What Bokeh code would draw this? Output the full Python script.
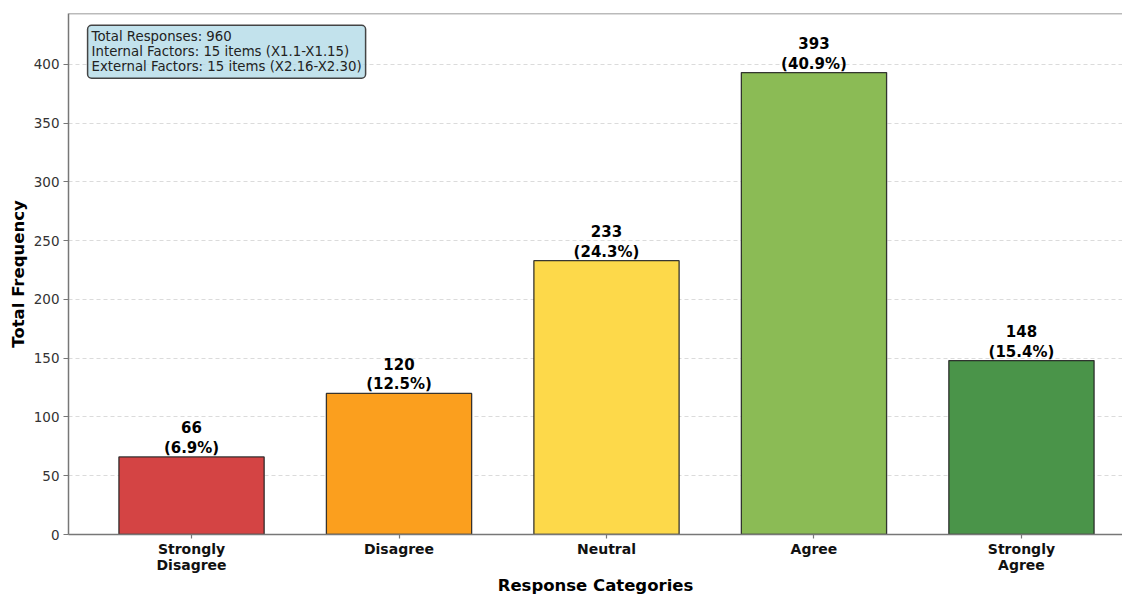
from bokeh.plotting import figure
from bokeh.models import ColumnDataSource, FixedTicker, Range1d, Span, Label
from bokeh.core.properties import value
from bokeh.embed import file_html
from bokeh.resources import INLINE

categories = ["Strongly\nDisagree", "Disagree", "Neutral", "Agree", "Strongly\nAgree"]
frequencies = [66, 120, 233, 393, 148]
bar_colors = ["#d44444", "#fb9f1e", "#fdd94a", "#8bbb55", "#4a9449"]
y_ticks = [0, 50, 100, 150, 200, 250, 300, 350, 400]
info_lines = ["Total Responses: 960",
              "Internal Factors: 15 items (X1.1-X1.15)",
              "External Factors: 15 items (X2.16-X2.30)"]

total = sum(frequencies)
positions = list(range(len(categories)))
labels = [f"{v}\n({v / total * 100:.1f}%)" for v in frequencies]

FONT = "DejaVu Sans"

src = ColumnDataSource(dict(x=positions, top=frequencies, color=bar_colors, label=labels))

y_max = max(frequencies) * 1.128
p = figure(width=1122, height=597, output_backend="svg", toolbar_location=None,
           x_range=Range1d(-0.593, 4.487), y_range=Range1d(0, y_max),
           min_border_left=68, min_border_right=0, min_border_top=13, min_border_bottom=50)

p.outline_line_color = None
p.background_fill_color = "white"
p.border_fill_color = "white"

p.vbar(x="x", top="top", width=0.7, bottom=0, source=src, fill_color="color",
       line_color="#222222", line_width=1.3, line_alpha=0.9)

p.text(x="x", y="top", text="label", source=src, text_align="center",
       text_baseline="bottom", text_font=value(FONT), text_font_style="bold",
       text_font_size="15px", text_color="black", text_line_height=1.1)

# top spine
p.add_layout(Span(location=y_max, dimension="width", line_color="#777777", line_width=1.5))

# grid
p.xgrid.visible = False
p.ygrid.ticker = FixedTicker(ticks=y_ticks)
p.ygrid.grid_line_color = "#cccccc"
p.ygrid.grid_line_dash = "4 3"
p.ygrid.grid_line_alpha = 0.7

# axes
for ax in (p.xaxis[0], p.yaxis[0]):
    ax.axis_line_color = "#777777"
    ax.axis_line_width = 1.5
    ax.major_tick_line_color = "#777777"
    ax.major_tick_line_width = 1.2
    ax.major_tick_out = 5
    ax.major_tick_in = 0
    ax.minor_tick_line_color = None
    ax.major_label_text_font = FONT
    ax.axis_label_text_font = FONT
    ax.axis_label_text_font_style = "bold"
    ax.axis_label_text_font_size = "16.5px"
    ax.axis_label_text_color = "black"

p.xaxis.ticker = FixedTicker(ticks=positions)
p.xaxis.major_label_overrides = {i: c for i, c in enumerate(categories)}
p.xaxis.major_label_text_font_style = "bold"
p.xaxis.major_label_text_font_size = "14px"
p.xaxis.major_label_text_line_height = 1.0
p.xaxis.major_tick_out = 4
p.xaxis.major_label_text_color = "#111111"
p.xaxis.major_label_standoff = 2
p.xaxis.axis_label = "Response Categories"
p.xaxis.axis_label_standoff = 0

p.yaxis.ticker = FixedTicker(ticks=y_ticks)
p.yaxis.major_label_text_font_size = "13.5px"
p.yaxis.major_label_text_color = "#333333"
p.yaxis.major_label_standoff = 4
p.yaxis.axis_label = "Total Frequency"
p.yaxis.axis_label_standoff = 3

info = Label(x=-0.501, y=y_max - 10, x_units="data", y_units="data",
             text="\n".join(info_lines), text_font=FONT, text_font_size="13.3px",
             text_color="#222222", text_baseline="top", text_align="left",
             text_line_height=1.0,
             background_fill_color="#add8e6", background_fill_alpha=0.75,
             border_line_color="#444444", border_line_width=1.5,
             padding=4, border_radius=4)
p.add_layout(info)

open("out.html", "w").write(file_html(p, INLINE))
